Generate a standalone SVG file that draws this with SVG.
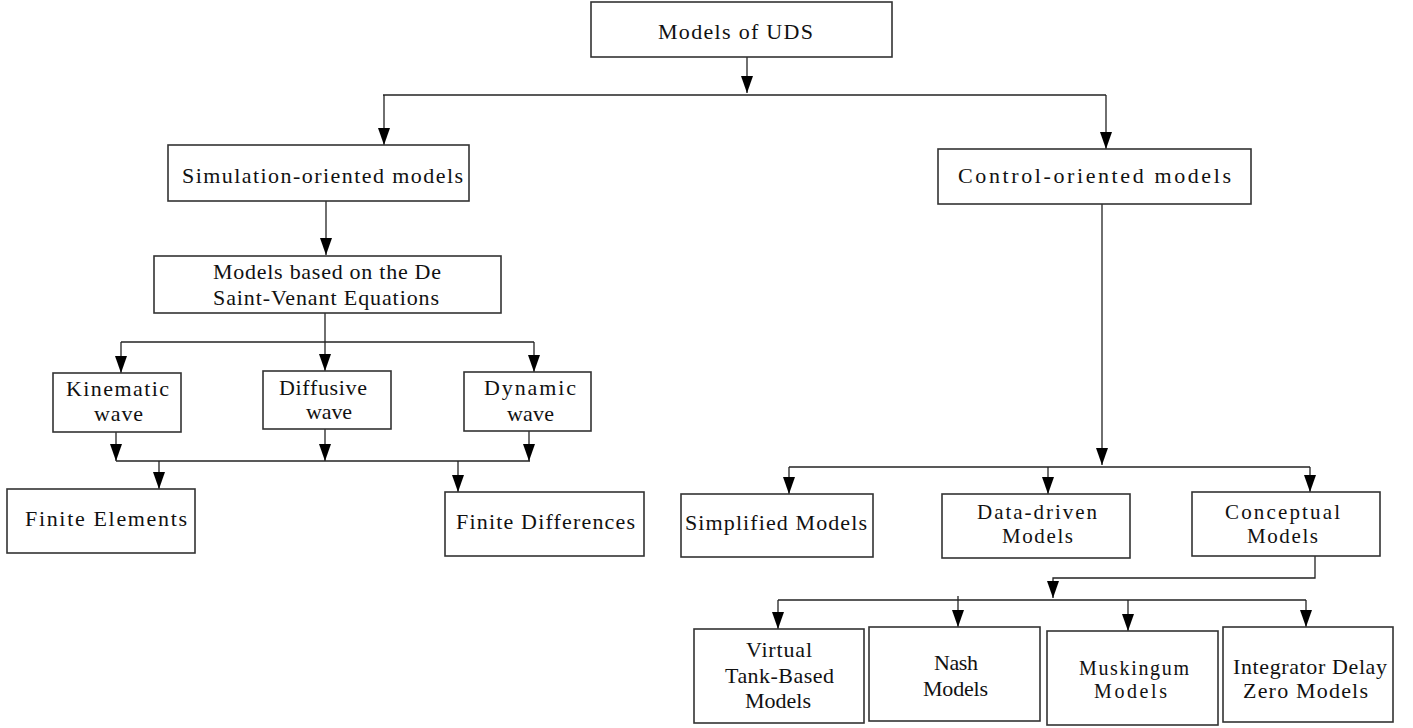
<svg xmlns="http://www.w3.org/2000/svg" width="1413" height="728" viewBox="0 0 1413 728">
<style>
.box{fill:#fff;stroke:#333;stroke-width:1.6}
.t{font-family:"Liberation Serif","Times New Roman",serif;font-size:22px;fill:#111;text-anchor:middle}
.s{font-size:20px}
.m{font-size:21px}
.c{fill:none;stroke:#222;stroke-width:1.3}
</style>
<defs>
<marker id="ah" markerUnits="userSpaceOnUse" markerWidth="18" markerHeight="13" refX="17" refY="6" orient="auto">
<path d="M0,0 L17,6 L0,12 z" fill="#000"/>
</marker>
</defs>
<rect width="1413" height="728" fill="#fff"/>
<g id="connectors">
<line class="c" x1="747" y1="57" x2="747" y2="93" marker-end="url(#ah)"/>
<line class="c" x1="383" y1="95" x2="1106" y2="95"/>
<line class="c" x1="384" y1="95" x2="384" y2="145" marker-end="url(#ah)"/>
<line class="c" x1="1106" y1="95" x2="1106" y2="149" marker-end="url(#ah)"/>
<line class="c" x1="326" y1="201" x2="326" y2="255" marker-end="url(#ah)"/>
<line class="c" x1="325" y1="313" x2="325" y2="371" marker-end="url(#ah)"/>
<line class="c" x1="121" y1="342" x2="534" y2="342"/>
<line class="c" x1="121" y1="342" x2="121" y2="373" marker-end="url(#ah)"/>
<line class="c" x1="534" y1="342" x2="534" y2="372" marker-end="url(#ah)"/>
<line class="c" x1="116" y1="432" x2="116" y2="461" marker-end="url(#ah)"/>
<line class="c" x1="325" y1="429" x2="325" y2="461" marker-end="url(#ah)"/>
<line class="c" x1="529" y1="431" x2="529" y2="461" marker-end="url(#ah)"/>
<line class="c" x1="116" y1="461" x2="530" y2="461"/>
<line class="c" x1="159" y1="461" x2="159" y2="489" marker-end="url(#ah)"/>
<line class="c" x1="458" y1="461" x2="458" y2="492" marker-end="url(#ah)"/>
<line class="c" x1="1102" y1="204" x2="1102" y2="465" marker-end="url(#ah)"/>
<line class="c" x1="789" y1="467" x2="1310" y2="467"/>
<line class="c" x1="789" y1="467" x2="789" y2="494" marker-end="url(#ah)"/>
<line class="c" x1="1048" y1="467" x2="1048" y2="494" marker-end="url(#ah)"/>
<line class="c" x1="1310" y1="467" x2="1310" y2="492" marker-end="url(#ah)"/>
<polyline class="c" points="1315,556 1315,578 1053,578 1053,598" marker-end="url(#ah)"/>
<line class="c" x1="778" y1="600" x2="1306" y2="600"/>
<line class="c" x1="778" y1="600" x2="778" y2="629" marker-end="url(#ah)"/>
<line class="c" x1="958" y1="596" x2="958" y2="627" marker-end="url(#ah)"/>
<line class="c" x1="1128" y1="600" x2="1128" y2="631" marker-end="url(#ah)"/>
<line class="c" x1="1306" y1="600" x2="1306" y2="627" marker-end="url(#ah)"/>
</g>
<g id="n-uds"><rect class="box" x="591" y="2" width="301" height="55"/><text class="t" x="735.5" y="39" textLength="155">Models of UDS</text></g>
<g id="n-sim"><rect class="box" x="168" y="145" width="301" height="56"/><text class="t" x="322.5" y="183" textLength="281">Simulation-oriented models</text></g>
<g id="n-ctrl"><rect class="box" x="938" y="149" width="313" height="55"/><text class="t" x="1094.5" y="183" textLength="273">Control-oriented models</text></g>
<g id="n-dsv"><rect class="box" x="154" y="256" width="347" height="57"/><text class="t" x="327" y="279" textLength="228">Models based on the De</text><text class="t" x="326" y="305" textLength="226">Saint-Venant Equations</text></g>
<g id="n-kin"><rect class="box" x="53" y="373" width="128" height="59"/><text class="t" x="117.5" y="396" textLength="103">Kinematic</text><text class="t" x="118.5" y="421" textLength="49">wave</text></g>
<g id="n-dif"><rect class="box" x="263" y="371" width="128" height="58"/><text class="t" x="323" y="395" textLength="88">Diffusive</text><text class="t" x="329" y="419" textLength="46">wave</text></g>
<g id="n-dyn"><rect class="box" x="464" y="372" width="127" height="59"/><text class="t" x="530" y="395" textLength="92">Dynamic</text><text class="t" x="530.5" y="421" textLength="47">wave</text></g>
<g id="n-fe"><rect class="box" x="7" y="489" width="188" height="64"/><text class="t" x="106" y="526" textLength="162">Finite Elements</text></g>
<g id="n-fd"><rect class="box" x="445" y="492" width="199" height="64"/><text class="t" x="545.5" y="529" textLength="179">Finite Differences</text></g>
<g id="n-simp"><rect class="box" x="681" y="494" width="192" height="63"/><text class="t" x="776" y="530" textLength="182">Simplified Models</text></g>
<g id="n-data"><rect class="box" x="942" y="494" width="188" height="64"/><text class="t m" x="1037" y="519" textLength="120">Data-driven</text><text class="t m" x="1037.5" y="543" textLength="71">Models</text></g>
<g id="n-conc"><rect class="box" x="1192" y="492" width="188" height="64"/><text class="t m" x="1282.5" y="519" textLength="115">Conceptual</text><text class="t m" x="1282.5" y="543" textLength="71">Models</text></g>
<g id="n-virt"><rect class="box" x="694" y="629" width="170" height="94"/><text class="t" x="779" y="657" textLength="66">Virtual</text><text class="t" x="779.5" y="683" textLength="109">Tank-Based</text><text class="t" x="778" y="708" textLength="66">Models</text></g>
<g id="n-nash"><rect class="box" x="869" y="627" width="171" height="94"/><text class="t" x="956" y="670" textLength="44">Nash</text><text class="t" x="955.5" y="696" textLength="65">Models</text></g>
<g id="n-musk"><rect class="box" x="1047" y="631" width="171" height="94"/><text class="t s" x="1134" y="675" textLength="110">Muskingum</text><text class="t s" x="1130.5" y="698" textLength="73">Models</text></g>
<g id="n-int"><rect class="box" x="1223" y="627" width="170" height="95"/><text class="t" x="1310" y="674" textLength="154">Integrator Delay</text><text class="t" x="1305.5" y="698" textLength="125">Zero Models</text></g>
</svg>
